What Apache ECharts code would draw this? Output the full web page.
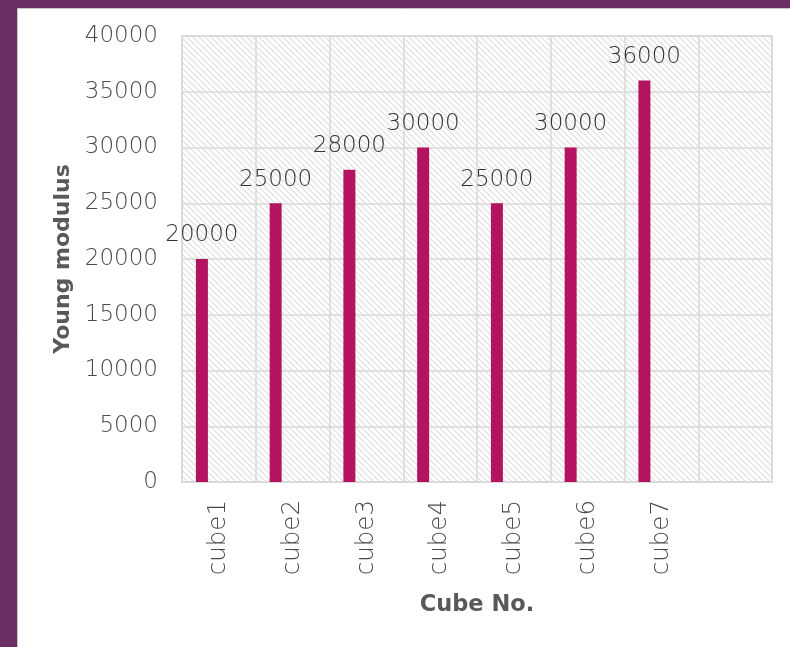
<!DOCTYPE html>
<html><head><meta charset="utf-8">
<script src="https://cdn.jsdelivr.net/npm/echarts@6/dist/echarts.min.js"></script>
<style>html,body{margin:0;padding:0;background:#6a2d64;}#c{width:790px;height:647px;}</style>
</head><body><div id="c"></div>
<script>
const categories = ['cube1','cube2','cube3','cube4','cube5','cube6','cube7',''];
const youngModulus = [20000,25000,28000,30000,25000,30000,36000,null];
const emptySeries = [null,null,null,null,null,null,null,null];
const yTicks = {min:0,max:40000,interval:5000};

// hatch pattern tile
const tile = document.createElement('canvas');
tile.width = 6; tile.height = 6;
const tc = tile.getContext('2d');
tc.fillStyle = '#ffffff'; tc.fillRect(0,0,6,6);
tc.strokeStyle = '#dedede'; tc.lineWidth = 1.2;
tc.beginPath();
tc.moveTo(-3,-3); tc.lineTo(9,9);
tc.moveTo(-3,3); tc.lineTo(3,9);
tc.moveTo(3,-3); tc.lineTo(9,3);
tc.stroke();

const chart = echarts.init(document.getElementById('c'), null, {renderer:'canvas'});
const txt = '#595959';
const lightFont = "'DejaVu Sans ExtraLight', 'DejaVu Sans'";
chart.setOption({
  backgroundColor:'#6a2d64',
  animation:false,
  graphic:[{type:'rect',z:-10,shape:{x:17.5,y:8.5,width:800,height:700},style:{fill:'#ffffff',stroke:'#c8c8c8',lineWidth:1}}],
  grid:{left:182,top:36,right:18,bottom:165,show:true,backgroundColor:{image:tile,repeat:'repeat'},borderColor:'#d9d9d9',borderWidth:1.5},
  xAxis:{type:'category',data:categories,
    name:'Cube No.',nameLocation:'middle',nameGap:112,
    nameTextStyle:{fontFamily:'DejaVu Sans',fontWeight:'bold',fontSize:22.5,color:txt},
    axisLine:{lineStyle:{color:'#d9d9d9',width:2}},axisTick:{show:false},
    axisLabel:{rotate:90,margin:18,fontFamily:lightFont,fontWeight:200,fontSize:24.5,color:'#4a4a4a'},
    splitLine:{show:true,lineStyle:{color:'#d9d9d9',width:1.5}}},
  yAxis:{type:'value',min:yTicks.min,max:yTicks.max,interval:yTicks.interval,
    name:'Young modulus',nameLocation:'middle',nameGap:107,
    nameTextStyle:{fontFamily:'DejaVu Sans',fontWeight:'bold',fontSize:22,color:txt},
    axisLine:{show:false},axisTick:{show:false},
    axisLabel:{margin:24,fontFamily:lightFont,fontWeight:200,fontSize:23,color:'#4a4a4a',formatter:v=>String(v)},
    splitLine:{show:true,lineStyle:{color:'#d9d9d9',width:1.5}}},
  series:[
    {type:'bar',data:youngModulus,barWidth:12,barGap:'183%',itemStyle:{color:'#b3135f'},
     label:{show:true,position:'top',distance:12,fontFamily:lightFont,fontWeight:200,fontSize:23,color:'#333333'}},
    {type:'bar',data:emptySeries,barWidth:12}
  ]
});
</script></body></html>
